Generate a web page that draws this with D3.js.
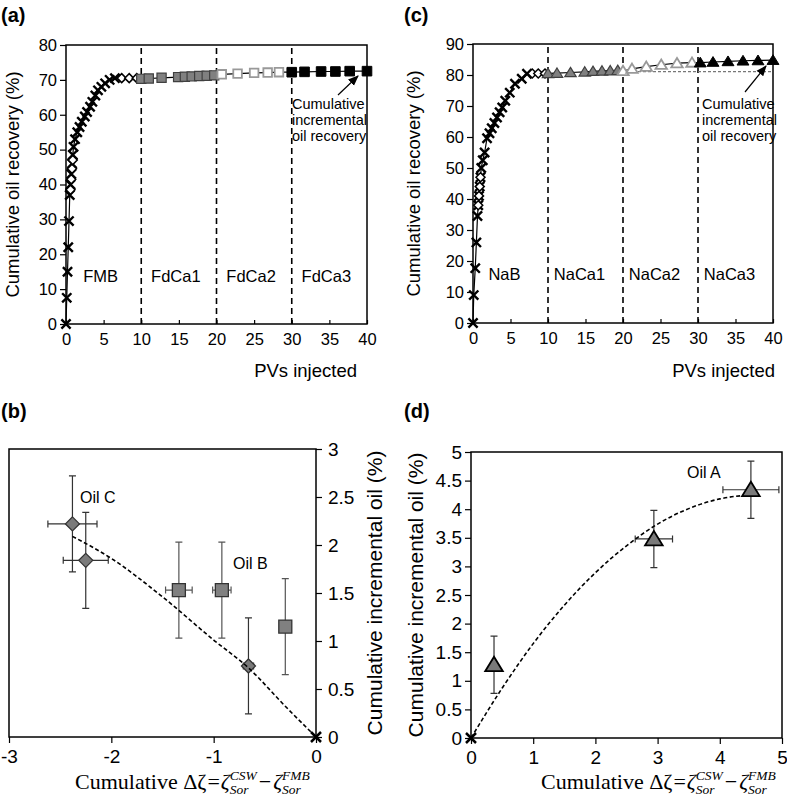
<!DOCTYPE html>
<html>
<head>
<meta charset="utf-8">
<script src="https://cdn.jsdelivr.net/npm/d3@7"></script>
<style>
body { margin: 0; background: #fff; }
text { font-family: "Liberation Sans", Arial, sans-serif; fill: #000; }
.serif text { font-family: "Liberation Serif", "Times New Roman", serif; white-space: pre; }
</style>
</head>
<body>
<script>
// ---------------- data ----------------
// (a) FMB flood then FdCa1..3
var fmbPV   = [0, 0.1, 0.2, 0.3, 0.4, 0.5, 0.6, 0.7, 0.8, 0.9, 1.0, 1.2, 1.5, 1.8, 2.1, 2.5, 2.8, 3.2, 3.5, 3.9, 4.25, 4.7, 5.2, 5.8, 6.5];
var fmbRec  = [0, 7.5, 15, 22, 29.5, 37, 40, 43, 46, 48.5, 50.8, 53, 55, 56.5, 58, 59.5, 60.8, 62.3, 63.7, 65.5, 67, 68, 69, 70, 70.5];
var fmbDiaPV  = [0.6, 0.7, 0.8, 0.9, 7.4, 8.4, 9.4];
var fmbDiaRec = [38.5, 41.5, 44.5, 47, 70.5, 70.5, 70.5];
var fdca1PV  = [10.0, 11.0, 12.7, 14.9, 15.8, 16.7, 17.7, 18.7, 19.7];
var fdca1Rec = [70.3, 70.4, 70.6, 70.8, 70.9, 71.0, 71.1, 71.2, 71.3];
var fdca2PV  = [20.7, 22.8, 25.0, 26.8, 28.3];
var fdca2Rec = [71.6, 71.8, 72.0, 72.1, 72.2];
var fdca3PV  = [30.0, 31.7, 33.9, 35.8, 37.7, 40.0];
var fdca3Rec = [72.2, 72.3, 72.4, 72.4, 72.5, 72.5];
var stagesA  = ["FMB", "FdCa1", "FdCa2", "FdCa3"];

// (c) NaB flood then NaCa1..3
var nabPV   = [0, 0.1, 0.3, 0.45, 0.6, 0.7, 0.8, 0.9, 1.0, 1.1, 1.3, 1.55, 1.87, 2.2, 2.5, 2.85, 3.2, 3.55, 3.9, 4.3, 4.9, 5.6, 6.5, 7.2];
var nabRec  = [0, 9, 17.7, 26, 34.5, 38, 41, 44, 47, 50, 52.5, 55, 59.6, 61.2, 62.8, 64.5, 66.3, 68, 69.5, 71.7, 74.3, 77.2, 78.8, 80.4];
var nabDiaPV  = [0.7, 0.8, 0.9, 1.0, 7.9, 8.7, 9.6];
var nabDiaRec = [38, 41, 44, 47, 80.5, 80.5, 80.5];
var naca1PV  = [10.0, 11.2, 13.0, 14.9, 16.0, 17.2, 18.3, 19.3];
var naca1Rec = [80.5, 80.6, 80.8, 81.0, 81.2, 81.3, 81.4, 81.5];
var naca2PV  = [20.0, 21.2, 23.1, 25.1, 27.2, 29.2];
var naca2Rec = [81.3, 82.0, 82.7, 83.3, 83.8, 84.0];
var naca3PV  = [30.3, 32.0, 34.0, 36.0, 38.0, 40.0];
var naca3Rec = [84.0, 84.2, 84.4, 84.6, 84.7, 84.8];
var nabBaseline = 81.1;
var stagesC  = ["NaB", "NaCa1", "NaCa2", "NaCa3"];

var stageBounds = [10, 20, 30];
var pvTicks = [0, 5, 10, 15, 20, 25, 30, 35, 40];

// (b) Oil C (diamonds) and Oil B (squares)
var oilCdz   = [-2.38, -2.25, -0.66];
var oilCinc  = [2.22, 1.84, 0.74];
var oilCdzErr  = [0.24, 0.22, 0.05];
var oilCincErr = [0.5, 0.5, 0.5];
var oilBdz   = [-1.34, -0.92, -0.30];
var oilBinc  = [1.53, 1.53, 1.15];
var oilBdzErr  = [0.13, 0.09, 0];
var oilBincErr = [0.5, 0.5, 0.5];
var trendBdz  = [-2.38, -2.0, -1.5, -1.0, -0.66, -0.3, 0];
var trendBinc = [2.09, 1.86, 1.46, 1.01, 0.72, 0.32, 0];

// (d) Oil A (triangles)
var oilAdz   = [0.37, 2.94, 4.5];
var oilAinc  = [1.28, 3.48, 4.34];
var oilAdzErr  = [0, 0.3, 0.45];
var oilAincErr = [0.5, 0.5, 0.5];
var trendAdz  = [0, 0.5, 1.0, 1.5, 2.0, 2.5, 3.0, 3.5, 4.0, 4.5];
var trendAinc = [0, 0.87, 1.65, 2.32, 2.89, 3.36, 3.74, 4.01, 4.18, 4.25];

// ---------------- drawing ----------------
var svg = d3.select("body").append("svg")
    .attr("width", 787)
    .attr("height", 796);

svg.append("defs").append("marker")
    .attr("id", "arr")
    .attr("viewBox", "0 0 10 10")
    .attr("refX", 9).attr("refY", 5)
    .attr("markerWidth", 9).attr("markerHeight", 9)
    .attr("orient", "auto")
    .append("path").attr("d", "M0,1L10,5L0,9Z").attr("fill", "#000");

// marker shapes
function shape(type, s) {
    if (type == "x") return "M" + (-s) + "," + (-s) + "L" + s + "," + s + "M" + (-s) + "," + s + "L" + s + "," + (-s);
    if (type == "d") return "M0," + (-s) + "L" + s + ",0L0," + s + "L" + (-s) + ",0Z";
    if (type == "s") return "M" + (-s) + "," + (-s) + "H" + s + "V" + s + "H" + (-s) + "Z";
    if (type == "t") return "M0," + (-s) + "L" + (s * 1.1) + "," + (s * 0.8) + "L" + (-s * 1.1) + "," + (s * 0.8) + "Z";
}

function points(g, xs, ys, sx, sy, type, size, fill, stroke, sw) {
    g.selectAll(null)
        .data(xs.map(function (d, i) { return [d, ys[i]]; }))
        .enter().append("path")
        .attr("transform", function (d) { return "translate(" + sx(d[0]) + "," + sy(d[1]) + ")"; })
        .attr("d", shape(type, size))
        .attr("fill", fill)
        .attr("stroke", stroke)
        .attr("stroke-width", sw);
}

function styleAxis(ax, fs) {
    ax.selectAll("path.domain").remove();
    ax.selectAll("line").attr("stroke", "#000").attr("stroke-width", 1.2);
    ax.selectAll("text").attr("font-size", fs).attr("fill", "#000")
        .style("font-family", "'Liberation Sans', Arial, sans-serif");
}

function box(g, sx, sy) {
    g.append("rect")
        .attr("x", sx.range()[0]).attr("y", sy.range()[1])
        .attr("width", sx.range()[1] - sx.range()[0])
        .attr("height", sy.range()[0] - sy.range()[1])
        .attr("fill", "none").attr("stroke", "#000").attr("stroke-width", 1.5);
}

function recoveryPanel(opt) {
    var g = svg.append("g");
    var sx = opt.sx, sy = opt.sy;

    // stage boundaries
    g.selectAll(null).data(stageBounds).enter().append("line")
        .attr("x1", function (d) { return sx(d); }).attr("x2", function (d) { return sx(d); })
        .attr("y1", sy.range()[0]).attr("y2", sy.range()[1])
        .attr("stroke", "#000").attr("stroke-width", 1.6).attr("stroke-dasharray", "6,4");

    // stage names
    g.selectAll(null).data(opt.stages).enter().append("text")
        .attr("x", function (d, i) { return sx(i * 10 + 5) + opt.labelShift; })
        .attr("y", sy(opt.stageY))
        .attr("text-anchor", "middle").attr("dy", "0.35em")
        .attr("font-size", 16.5)
        .text(function (d) { return d; });

    // axes
    var ax = g.append("g").attr("transform", "translate(0," + sy.range()[0] + ")")
        .call(d3.axisBottom(sx).tickValues(pvTicks).tickSizeInner(-4).tickSizeOuter(0).tickPadding(9));
    styleAxis(ax, 16.5);
    var ay = g.append("g").attr("transform", "translate(" + sx.range()[0] + ",0)")
        .call(d3.axisLeft(sy).tickValues(opt.yTicks).tickSize(6).tickSizeOuter(0).tickPadding(3));
    styleAxis(ay, 16.5);
    box(g, sx, sy);

    // baseline (dotted) for incremental recovery
    if (opt.baseline != null) {
        g.append("line")
            .attr("x1", sx(20)).attr("x2", sx(40))
            .attr("y1", sy(opt.baseline)).attr("y2", sy(opt.baseline))
            .attr("stroke", "#777").attr("stroke-width", 1.2).attr("stroke-dasharray", "3,2");
    }

    // connecting line through all points
    var all = [];
    opt.series.forEach(function (s) {
        s.x.forEach(function (d, i) { all.push([d, s.y[i]]); });
    });
    all.sort(function (a, b) { return a[0] - b[0] || a[1] - b[1]; });
    g.append("path").datum(all)
        .attr("d", d3.line().x(function (d) { return sx(d[0]); }).y(function (d) { return sy(d[1]); }))
        .attr("fill", "none").attr("stroke", "#000").attr("stroke-width", 1.2);

    opt.series.forEach(function (s) {
        points(g, s.x, s.y, sx, sy, s.type, s.size, s.fill, s.stroke, s.sw);
    });

    // annotation
    var tx = opt.noteX, ty = opt.noteY;
    ["Cumulative", "incremental", "oil recovery"].forEach(function (t, i) {
        g.append("text").attr("x", tx).attr("y", ty + i * 16).attr("font-size", 14.5)
            .attr("dy", "0.35em").text(t);
    });
    g.append("line")
        .attr("x1", opt.arrow[0]).attr("y1", opt.arrow[1])
        .attr("x2", opt.arrow[2]).attr("y2", opt.arrow[3])
        .attr("stroke", "#000").attr("stroke-width", 1.2)
        .attr("marker-end", "url(#arr)");

    // titles
    g.append("text")
        .attr("transform", "translate(" + opt.yTitleX + "," + ((sy.range()[0] + sy.range()[1]) / 2) + ") rotate(-90)")
        .attr("text-anchor", "middle").attr("font-size", 18.5)
        .text("Cumulative oil recovery (%)");
    g.append("text")
        .attr("x", opt.xTitleEnd).attr("y", 377)
        .attr("text-anchor", "end").attr("font-size", 18.5)
        .text("PVs injected");
    svg.append("text").attr("x", opt.tag[0]).attr("y", opt.tag[1])
        .attr("font-size", 20).attr("font-weight", "bold").text(opt.tagText);
}

// ---- panel (a)
var xa = d3.scaleLinear().domain([0, 40]).range([66, 367]);
var ya = d3.scaleLinear().domain([0, 80]).range([324, 45]);
recoveryPanel({
    sx: xa, sy: ya, yTicks: d3.range(0, 81, 10), stages: stagesA, labelShift: -3, stageY: 13.8,
    baseline: null,
    series: [
        { x: fmbPV, y: fmbRec, type: "x", size: 4.6, fill: "none", stroke: "#000", sw: 2.4 },
        { x: fmbDiaPV, y: fmbDiaRec, type: "d", size: 4.5, fill: "#fff", stroke: "#000", sw: 1.5 },
        { x: fdca1PV, y: fdca1Rec, type: "s", size: 4.6, fill: "#808080", stroke: "#404040", sw: 1.2 },
        { x: fdca2PV, y: fdca2Rec, type: "s", size: 4.3, fill: "#fff", stroke: "#999", sw: 1.8 },
        { x: fdca3PV, y: fdca3Rec, type: "s", size: 4.8, fill: "#000", stroke: "#000", sw: 1 }
    ],
    noteX: 292, noteY: 104, arrow: [338, 95, 358, 76],
    yTitleX: 19, xTitleEnd: 357, tag: [1, 22], tagText: "(a)"
});

// ---- panel (c)
var xc = d3.scaleLinear().domain([0, 40]).range([473, 773]);
var yc = d3.scaleLinear().domain([0, 90]).range([323, 44]);
recoveryPanel({
    sx: xc, sy: yc, yTicks: d3.range(0, 91, 10), stages: stagesC, labelShift: -6, stageY: 15.8,
    baseline: nabBaseline,
    series: [
        { x: nabPV, y: nabRec, type: "x", size: 4.6, fill: "none", stroke: "#000", sw: 2.4 },
        { x: nabDiaPV, y: nabDiaRec, type: "d", size: 4.5, fill: "#fff", stroke: "#000", sw: 1.5 },
        { x: naca1PV, y: naca1Rec, type: "t", size: 5.2, fill: "#808080", stroke: "#404040", sw: 1.2 },
        { x: naca2PV, y: naca2Rec, type: "t", size: 5.2, fill: "#fff", stroke: "#999", sw: 1.8 },
        { x: naca3PV, y: naca3Rec, type: "t", size: 5.4, fill: "#000", stroke: "#000", sw: 1 }
    ],
    noteX: 702, noteY: 104, arrow: [745, 92, 766, 66],
    yTitleX: 420, xTitleEnd: 775, tag: [404, 22], tagText: "(c)"
});

// ---- math x label: Cumulative Δζ = ζ^CSW_Sor − ζ^FMB_Sor
function mathLabel(x, y) {
    var g = svg.append("g").attr("class", "serif");
    var cx = x;
    function piece(t, italic, fs, dy) {
        var el = g.append("text").attr("x", cx).attr("y", y + (dy || 0))
            .attr("xml:space", "preserve")
            .attr("font-size", fs).attr("font-style", italic ? "italic" : "normal").text(t);
        return el.node().getComputedTextLength();
    }
    function add(t, italic, gap) { cx += piece(t, italic, 22) + (gap || 0); }
    function stack(sup, sub) {
        var w1 = piece(sup, true, 13.5, -9);
        var w2 = piece(sub, true, 13.5, 5);
        cx += Math.max(w1, w2);
    }
    add("Cumulative ", false);
    add("\u0394\u03B6", false, 1);
    add("=", false, 1);
    add("\u03B6", true);
    stack("CSW", "Sor");
    cx += 2;
    add("\u2212", false, 2);
    add("\u03B6", true);
    stack("FMB", "Sor");
}

function errorBars(g, xs, ys, xe, ye, sx, sy, color) {
    xs.forEach(function (d, i) {
        var px = sx(d), py = sy(ys[i]);
        if (ye[i] > 0) {
            var t = sy(ys[i] + ye[i]), b = sy(ys[i] - ye[i]);
            g.append("path").attr("d", "M" + px + "," + t + "V" + b + "M" + (px - 3.5) + "," + t + "H" + (px + 3.5) + "M" + (px - 3.5) + "," + b + "H" + (px + 3.5))
                .attr("stroke", color).attr("stroke-width", 1.2).attr("fill", "none");
        }
        if (xe[i] > 0) {
            var l = sx(d - xe[i]), r = sx(d + xe[i]);
            g.append("path").attr("d", "M" + l + "," + py + "H" + r + "M" + l + "," + (py - 3.5) + "V" + (py + 3.5) + "M" + r + "," + (py - 3.5) + "V" + (py + 3.5))
                .attr("stroke", color).attr("stroke-width", 1.2).attr("fill", "none");
        }
    });
}

function trend(g, xs, ys, sx, sy) {
    g.append("path").datum(xs.map(function (d, i) { return [d, ys[i]]; }))
        .attr("d", d3.line().curve(d3.curveMonotoneX).x(function (d) { return sx(d[0]); }).y(function (d) { return sy(d[1]); }))
        .attr("fill", "none").attr("stroke", "#000").attr("stroke-width", 1.6).attr("stroke-dasharray", "4,2.5");
}

// ---- panel (b)
var xb = d3.scaleLinear().domain([-3, 0]).range([9, 316]);
var yb = d3.scaleLinear().domain([0, 3]).range([737, 449]);
var gb = svg.append("g");
var bxAx = gb.append("g").attr("transform", "translate(0,737)")
    .call(d3.axisBottom(xb).tickValues([-3, -2, -1, 0]).tickSize(6).tickPadding(7).tickFormat(function (d) { return String(d); }));
styleAxis(bxAx, 19);
var byAx = gb.append("g").attr("transform", "translate(316,0)")
    .call(d3.axisRight(yb).tickValues(d3.range(0, 3.01, 0.5)).tickSize(6).tickPadding(6).tickFormat(function (d) { return String(d); }));
styleAxis(byAx, 19);
box(gb, xb, yb);
errorBars(gb, oilCdz, oilCinc, oilCdzErr, oilCincErr, xb, yb, "#333");
errorBars(gb, oilBdz, oilBinc, oilBdzErr, oilBincErr, xb, yb, "#555");
points(gb, oilCdz, oilCinc, xb, yb, "d", 7, "#7a7a7a", "#333", 1.3);
points(gb, oilBdz, oilBinc, xb, yb, "s", 6.5, "#808080", "#333", 1.3);
trend(gb, trendBdz, trendBinc, xb, yb);
points(gb, [0], [0], xb, yb, "x", 5, "none", "#000", 2.5);
gb.append("text").attr("x", 80).attr("y", 497).attr("dy", "0.35em").attr("font-size", 16).text("Oil C");
gb.append("text").attr("x", 233).attr("y", 563).attr("dy", "0.35em").attr("font-size", 16).text("Oil B");
gb.append("text")
    .attr("transform", "translate(382," + ((737 + 449) / 2) + ") rotate(-90)")
    .attr("text-anchor", "middle").attr("font-size", 21).text("Cumulative incremental oil (%)");
svg.append("text").attr("x", 1).attr("y", 418).attr("font-size", 20).attr("font-weight", "bold").text("(b)");
mathLabel(75, 789);

// ---- panel (d)
var xd = d3.scaleLinear().domain([0, 5]).range([471, 782]);
var yd = d3.scaleLinear().domain([0, 5]).range([738, 452]);
var gd = svg.append("g");
var dxAx = gd.append("g").attr("transform", "translate(0,738)")
    .call(d3.axisBottom(xd).tickValues(d3.range(0, 5.01, 1)).tickSize(6).tickPadding(7).tickFormat(function (d) { return String(d); }));
styleAxis(dxAx, 19);
var dyAx = gd.append("g").attr("transform", "translate(471,0)")
    .call(d3.axisLeft(yd).tickValues(d3.range(0, 5.01, 0.5)).tickSize(6).tickPadding(3).tickFormat(function (d) { return String(d); }));
styleAxis(dyAx, 19);
box(gd, xd, yd);
errorBars(gd, oilAdz, oilAinc, oilAdzErr, oilAincErr, xd, yd, "#333");
trend(gd, trendAdz, trendAinc, xd, yd);
points(gd, oilAdz, oilAinc, xd, yd, "t", 8, "#7a7a7a", "#000", 1.8);
points(gd, [0], [0], xd, yd, "x", 5, "none", "#000", 2.5);
gd.append("text").attr("x", 687).attr("y", 472).attr("dy", "0.35em").attr("font-size", 16).text("Oil A");
gd.append("text")
    .attr("transform", "translate(423," + ((738 + 452) / 2) + ") rotate(-90)")
    .attr("text-anchor", "middle").attr("font-size", 21).text("Cumulative incremental oil (%)");
svg.append("text").attr("x", 404).attr("y", 418).attr("font-size", 20).attr("font-weight", "bold").text("(d)");
mathLabel(541, 789);
</script>
</body>
</html>
